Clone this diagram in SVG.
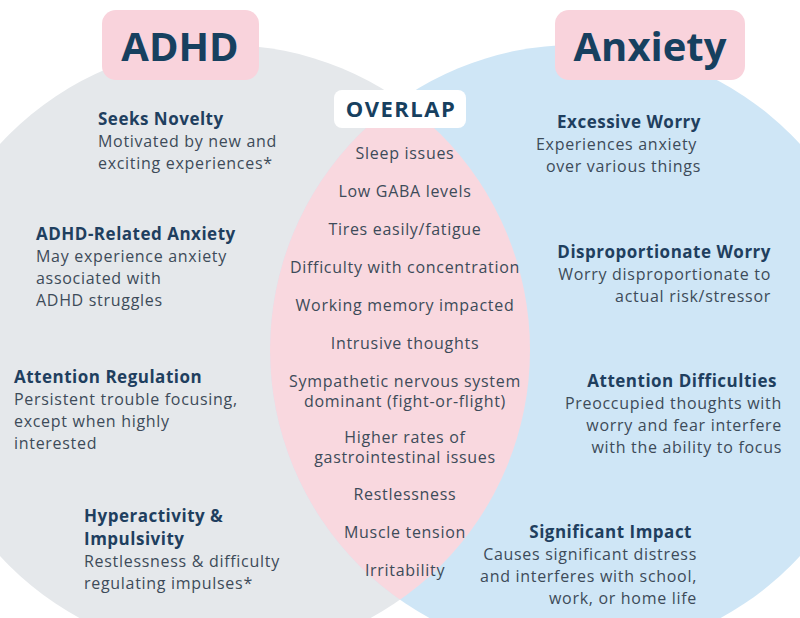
<svg xmlns="http://www.w3.org/2000/svg" width="800" height="618" viewBox="0 0 800 618">
<style>
.h{font-family:"Open Sans",sans-serif;font-weight:700;font-size:17px;letter-spacing:0.5px;fill:#1f3f5f}
.b{font-family:"Open Sans",sans-serif;font-size:16px;letter-spacing:0.7px;fill:#3d4b59}
.t{font-family:"Open Sans",sans-serif;font-weight:700;fill:#17405f}
.c{text-anchor:middle}
.r{text-anchor:end}
</style>
<defs>
<clipPath id="lc"><circle cx="225" cy="350" r="305"/></clipPath>
</defs>
<rect width="800" height="618" fill="#fff"/>
<g id="circles">
<circle id="adhd-circle" cx="225" cy="350" r="305" fill="#e5e8eb"/>
<circle id="anxiety-circle" cx="575" cy="350" r="305" fill="#cfe6f6"/>
<circle id="overlap-lens" cx="575" cy="350" r="305" fill="#f9d8df" clip-path="url(#lc)"/>
</g>
<g id="titles">
<g id="title-adhd"><rect x="102" y="10" width="157" height="70" rx="14" fill="#f9d3dc"/><text class="t c" x="180" y="61" font-size="40">ADHD</text></g>
<g id="title-anxiety"><rect x="555" y="10" width="190" height="70" rx="14" fill="#f9d3dc"/><text class="t c" x="650" y="61" font-size="40">Anxiety</text></g>
<g id="title-overlap"><rect x="334" y="90" width="132" height="38" rx="8" fill="#fff"/><text class="t c" x="401" y="117" font-size="22" letter-spacing="1.5">OVERLAP</text></g>
</g>
<g id="adhd-items">
<g id="i1"><text class="h" x="98" y="125">Seeks Novelty</text><text class="b" x="98" y="147">Motivated by new and</text><text class="b" x="98" y="169">exciting experiences*</text></g>
<g id="i2"><text class="h" x="36" y="240">ADHD-Related Anxiety</text><text class="b" x="36" y="262">May experience anxiety</text><text class="b" x="36" y="284">associated with</text><text class="b" x="36" y="306">ADHD struggles</text></g>
<g id="i3"><text class="h" x="14" y="383">Attention Regulation</text><text class="b" x="14" y="405">Persistent trouble focusing,</text><text class="b" x="14" y="427">except when highly</text><text class="b" x="14" y="449">interested</text></g>
<g id="i4"><text class="h" x="84" y="522">Hyperactivity &amp;</text><text class="h" x="84" y="545">Impulsivity</text><text class="b" x="84" y="567">Restlessness &amp; difficulty</text><text class="b" x="84" y="589">regulating impulses*</text></g>
</g>
<g id="overlap-items">
<text class="b c" x="405" y="159">Sleep issues</text>
<text class="b c" x="405" y="197">Low GABA levels</text>
<text class="b c" x="405" y="235">Tires easily/fatigue</text>
<text class="b c" x="405" y="273">Difficulty with concentration</text>
<text class="b c" x="405" y="311">Working memory impacted</text>
<text class="b c" x="405" y="349">Intrusive thoughts</text>
<text class="b c" x="405" y="387">Sympathetic nervous system</text>
<text class="b c" x="405" y="407">dominant (fight-or-flight)</text>
<text class="b c" x="405" y="443">Higher rates of</text>
<text class="b c" x="405" y="463">gastrointestinal issues</text>
<text class="b c" x="405" y="500">Restlessness</text>
<text class="b c" x="405" y="538">Muscle tension</text>
<text class="b c" x="405" y="576">Irritability</text>
</g>
<g id="anxiety-items">
<g id="a1"><text class="h r" x="701" y="128">Excessive Worry</text><text class="b r" x="697" y="150">Experiences anxiety</text><text class="b r" x="701" y="172">over various things</text></g>
<g id="a2"><text class="h r" x="771" y="258">Disproportionate Worry</text><text class="b r" x="771" y="280">Worry disproportionate to</text><text class="b r" x="771" y="302">actual risk/stressor</text></g>
<g id="a3"><text class="h r" x="777" y="387">Attention Difficulties</text><text class="b r" x="782" y="409">Preoccupied thoughts with</text><text class="b r" x="782" y="431">worry and fear interfere</text><text class="b r" x="782" y="453">with the ability to focus</text></g>
<g id="a4"><text class="h r" x="692" y="538">Significant Impact</text><text class="b r" x="697" y="560">Causes significant distress</text><text class="b r" x="697" y="582">and interferes with school,</text><text class="b r" x="697" y="604">work, or home life</text></g>
</g>
</svg>
